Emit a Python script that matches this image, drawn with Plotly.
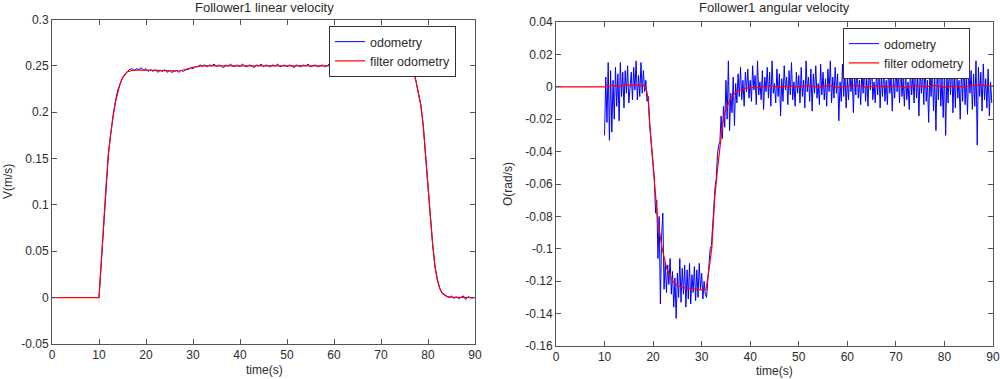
import plotly.graph_objects as go

# ---------------- DATA ----------------
# Linear velocity: odometry sampled every 0.5 s from t = 10 s
lin_odo_t0 = 10.0
lin_odo_dt = 0.5
lin_odo_v = [
    0.000, 0.040, 0.085, 0.118, 0.155, 0.178, 0.198, 0.212,
    0.224, 0.231, 0.237, 0.241, 0.244, 0.246, 0.247, 0.245,
    0.247, 0.246, 0.248, 0.245, 0.247, 0.244, 0.246, 0.244,
    0.246, 0.243, 0.245, 0.244, 0.246, 0.243, 0.245, 0.243,
    0.244, 0.245, 0.243, 0.245, 0.244, 0.246, 0.246, 0.248,
    0.247, 0.249, 0.249, 0.251, 0.250, 0.251, 0.249, 0.251,
    0.250, 0.252, 0.249, 0.251, 0.250, 0.248, 0.251, 0.250,
    0.252, 0.249, 0.250, 0.251, 0.249, 0.252, 0.250, 0.249,
    0.251, 0.250, 0.248, 0.251, 0.250, 0.252, 0.249, 0.251,
    0.250, 0.249, 0.251, 0.250, 0.252, 0.249, 0.250, 0.251,
    0.249, 0.251, 0.250, 0.248, 0.251, 0.250, 0.249, 0.251,
    0.250, 0.252, 0.249, 0.250, 0.251, 0.249, 0.250, 0.251,
    0.249, 0.250, 0.252, 0.249, 0.251, 0.250, 0.249, 0.251,
    0.250, 0.249, 0.251, 0.250, 0.248, 0.250, 0.251, 0.249,
    0.250, 0.251, 0.249, 0.250, 0.249, 0.251, 0.250, 0.248,
    0.250, 0.249, 0.251, 0.249, 0.250, 0.248, 0.250, 0.249,
    0.250, 0.249, 0.248, 0.250, 0.249, 0.249, 0.244, 0.232,
    0.220, 0.207, 0.185, 0.150, 0.120, 0.088, 0.057, 0.033,
    0.019, 0.010, 0.005, 0.003, 0.001, 0.000, 0.002, -0.001,
    0.001, -0.001, 0.000, 0.002, -0.002, 0.001, 0.000, -0.001,
]

# Linear velocity: filtered odometry
lin_filt_t = [0, 10, 10.5, 11, 11.5, 12, 12.5, 13, 13.5, 14, 14.5, 15, 15.5, 16,
              17, 18, 20, 22, 24, 26, 27.5, 28.5, 29.5, 30.5, 31.5, 33, 40, 50,
              60, 70, 75, 76, 76.5, 77, 77.5, 78, 78.5, 79, 79.5, 80, 80.5, 81,
              81.5, 82, 82.5, 83, 83.5, 84, 85, 86, 88, 90]
lin_filt_v = [0, 0, 0.040, 0.083, 0.120, 0.155, 0.178, 0.197, 0.211, 0.222, 0.231,
              0.237, 0.241, 0.2435, 0.245, 0.2455, 0.2455, 0.245, 0.2445, 0.2445,
              0.245, 0.2465, 0.2480, 0.2490, 0.2498, 0.2500, 0.2500, 0.2500,
              0.2500, 0.2500, 0.2500, 0.2500, 0.2490, 0.2440, 0.2320, 0.2200,
              0.2070, 0.1850, 0.1500, 0.1200, 0.0880, 0.0570, 0.0330, 0.0190,
              0.0100, 0.0050, 0.0030, 0.0010, 0.0005, 0.0003, 0.0, 0.0]

# Angular velocity: odometry sampled every 0.25 s from t = 10 s
ang_odo_t0 = 10.0
ang_odo_dt = 0.25
ang_odo_w = [
    -0.030, 0.006, -0.022, 0.015, -0.033, 0.010, -0.028, 0.004,
    -0.020, 0.012, -0.012, 0.008, -0.021, 0.015, -0.006, 0.009,
    -0.013, 0.010, -0.004, 0.013, -0.010, 0.002, 0.009, -0.008,
    0.012, -0.002, 0.016, -0.008, 0.007, -0.006, 0.015, -0.004,
    0.010, -0.003, 0.004, -0.009, -0.006, -0.022, -0.030, -0.038,
    -0.050, -0.056, -0.078, -0.070, -0.106, -0.080, -0.134, -0.092,
    -0.078, -0.125, -0.108, -0.127, -0.110, -0.122, -0.106, -0.128,
    -0.114, -0.136, -0.118, -0.143, -0.115, -0.130, -0.106, -0.133,
    -0.112, -0.128, -0.110, -0.136, -0.113, -0.131, -0.109, -0.134,
    -0.116, -0.127, -0.111, -0.132, -0.113, -0.130, -0.109, -0.125,
    -0.115, -0.131, -0.120, -0.128, -0.130, -0.118, -0.112, -0.100,
    -0.098, -0.082, -0.075, -0.062, -0.057, -0.042, -0.036, -0.034,
    -0.018, -0.032, -0.012, -0.025, 0.004, -0.020, 0.016, -0.027,
    -0.004, -0.016, 0.006, -0.024, 0.002, -0.010, 0.008, -0.006,
    0.012, -0.008, 0.004, -0.012, 0.009, -0.003, 0.011, -0.007,
    0.004, -0.009, 0.013, -0.002, 0.007, -0.011, 0.016, -0.005,
    0.003, -0.008, 0.010, -0.014, 0.006, -0.003, 0.012, -0.007,
    0.009, -0.012, 0.016, -0.004, 0.002, -0.010, 0.011, -0.006,
    0.008, -0.018, 0.005, -0.009, 0.013, -0.002, 0.006, -0.011,
    0.010, -0.005, 0.015, -0.008, 0.003, -0.012, 0.009, -0.004,
    0.007, -0.010, 0.012, -0.006, 0.004, -0.013, 0.016, -0.003,
    0.006, -0.009, 0.011, -0.015, 0.008, -0.004, 0.013, -0.007,
    0.002, -0.011, 0.014, -0.005, 0.009, -0.008, 0.005, -0.012,
    0.011, -0.003, 0.016, -0.010, 0.006, -0.007, 0.012, -0.004,
    0.008, -0.021, 0.003, -0.009, 0.014, -0.006, 0.010, -0.013,
    0.005, -0.008, 0.012, -0.003, 0.007, -0.016, 0.009, -0.005,
    0.015, -0.007, 0.004, -0.011, 0.010, -0.004, 0.013, -0.009,
    0.006, -0.012, 0.011, -0.002, 0.016, -0.008, 0.003, -0.010,
    0.009, -0.005, 0.014, -0.013, 0.007, -0.006, 0.010, -0.009,
    0.004, -0.011, 0.012, -0.004, 0.008, -0.015, 0.006, -0.007,
    0.013, -0.003, 0.009, -0.010, 0.016, -0.006, 0.005, -0.012,
    0.010, -0.008, 0.003, -0.014, 0.011, -0.005, 0.008, -0.010,
    0.014, -0.007, 0.006, -0.018, 0.012, -0.004, 0.009, -0.011,
    0.016, -0.009, 0.004, -0.022, 0.010, -0.006, 0.013, -0.015,
    0.007, -0.027, 0.011, -0.008, 0.016, -0.012, 0.005, -0.019,
    0.012, -0.030, 0.008, -0.010, 0.014, -0.005, 0.016, -0.016,
    0.009, -0.013, 0.015, -0.007, 0.004, -0.020, 0.011, -0.009,
    0.016, -0.011, 0.006, -0.017, 0.013, -0.004, 0.010, -0.014,
    0.008, -0.012, 0.016, -0.036, 0.012, -0.006, 0.009, -0.015,
    0.014, -0.008, 0.005, -0.013, 0.011, -0.018, 0.003, -0.010,
]

# Angular velocity: filtered odometry
ang_filt_t = [0, 10, 10.5, 11, 11.5, 12, 12.5, 13, 13.5, 14, 15, 15.5, 16, 16.5,
              17, 17.5, 18, 18.3, 18.7, 19.0, 19.4, 20.0, 20.4, 20.8, 21.4, 21.8,
              22.4, 22.8, 23.5, 24.2, 24.9, 26, 27.6, 29, 30.3, 30.9, 31.2, 31.5,
              32.1, 32.7, 33.3, 33.8, 34.3, 34.8, 35.8, 36.8, 37.9, 39, 40, 42,
              44, 46, 48, 50, 52, 54, 56, 58, 60, 62, 64, 66, 68, 70, 72, 74, 76,
              78, 80, 82, 84, 86, 88, 89, 90]
ang_filt_w = [0, 0, 0.0010, 0.0000, 0.0012, 0.0005, 0.0010, 0.0000, 0.0008,
              0.0015, 0.0010, 0.0005, 0.0012, 0.0008, 0.0010, 0.0006, 0.0008,
              0.0000, -0.0030, -0.0080, -0.0270, -0.0470, -0.0600, -0.0780,
              -0.0910, -0.0990, -0.1070, -0.1120, -0.1170, -0.1205, -0.1225,
              -0.1240, -0.1246, -0.1250, -0.1255, -0.1250, -0.1200, -0.1130,
              -0.0990, -0.0680, -0.0500, -0.0370, -0.0230, -0.0160, -0.0080,
              -0.0040, -0.0020, -0.0010, -0.0005, -0.0005, 0.0008, -0.0003,
              0.0006, 0.0000, 0.0007, -0.0004, 0.0009, -0.0005, 0.0004, 0.0008,
              -0.0004, 0.0006, 0.0000, 0.0008, -0.0005, 0.0007, 0.0000, 0.0009,
              -0.0003, 0.0006, 0.0000, 0.0008, 0.0010, 0.0004, 0.0005]

x_ticks = [0, 10, 20, 30, 40, 50, 60, 70, 80, 90]
lin_y_ticks = [0.3, 0.25, 0.2, 0.15, 0.1, 0.05, 0, -0.05]
lin_y_text = ["0.3", "0.25", "0.2", "0.15", "0.1", "0.05", "0", "-0.05"]
ang_y_ticks = [0.04, 0.02, 0, -0.02, -0.04, -0.06, -0.08, -0.1, -0.12, -0.14, -0.16]
ang_y_text = ["0.04", "0.02", "0", "-0.02", "-0.04", "-0.06", "-0.08", "-0.1",
              "-0.12", "-0.14", "-0.16"]

titles = ["Follower1 linear velocity", "Follower1 angular velocity"]
y_titles = ["V(m/s)", "O(rad/s)"]
x_title = "time(s)"
legend_names = ["odometry", "filter odometry"]

# ---------------- FIGURE ----------------
W, H = 1000, 379
FONT = "Liberation Sans, Arial, sans-serif"
TXT = "#2b2b2b"
AX = "#555555"
FS = 12

lin_odo_t = [lin_odo_t0 + i * lin_odo_dt for i in range(len(lin_odo_v))]
ang_odo_t = [ang_odo_t0 + i * ang_odo_dt for i in range(len(ang_odo_w))]

fig = go.Figure()
fig.add_trace(go.Scatter(x=lin_odo_t, y=lin_odo_v, mode="lines", name=legend_names[0],
                         line=dict(color="#0000ff", width=1), xaxis="x", yaxis="y",
                         legend="legend"))
fig.add_trace(go.Scatter(x=lin_filt_t, y=lin_filt_v, mode="lines", name=legend_names[1],
                         line=dict(color="#ff0000", width=1.2), xaxis="x", yaxis="y",
                         legend="legend"))
fig.add_trace(go.Scatter(x=ang_odo_t, y=ang_odo_w, mode="lines", name=legend_names[0],
                         line=dict(color="#0000ff", width=1), xaxis="x2", yaxis="y2",
                         legend="legend2"))
fig.add_trace(go.Scatter(x=ang_filt_t, y=ang_filt_w, mode="lines", name=legend_names[1],
                         line=dict(color="#ff0000", width=1.2), xaxis="x2", yaxis="y2",
                         legend="legend2"))


def px_x(p):
    return p / W


def px_y(p):
    return 1 - p / H


axis_common = dict(showgrid=False, zeroline=False, showline=True, linecolor=AX,
                   linewidth=1, mirror="ticks", ticks="inside", ticklen=5,
                   tickcolor=AX, automargin=False,
                   tickfont=dict(family=FONT, size=FS, color=TXT))

fig.update_layout(
    width=W, height=H,
    margin=dict(l=0, r=0, t=0, b=0, autoexpand=False),
    paper_bgcolor="white", plot_bgcolor="white",
    font=dict(family=FONT, size=FS, color=TXT),
    xaxis=dict(domain=[px_x(52), px_x(475)], range=[0, 90], tickvals=x_ticks,
               anchor="y", **axis_common),
    yaxis=dict(domain=[px_y(344), px_y(19.5)], range=[-0.05, 0.3],
               tickvals=lin_y_ticks, ticktext=lin_y_text, anchor="x", **axis_common),
    xaxis2=dict(domain=[px_x(556), px_x(993)], range=[0, 90], tickvals=x_ticks,
                anchor="y2", **axis_common),
    yaxis2=dict(domain=[px_y(346), px_y(22)], range=[-0.16, 0.04],
                tickvals=ang_y_ticks, ticktext=ang_y_text, anchor="x2", **axis_common),
    legend=dict(x=px_x(329), y=px_y(26), xanchor="left", yanchor="top",
                bgcolor="white", bordercolor="#333333", borderwidth=1,
                font=dict(family=FONT, size=12.5, color=TXT), tracegroupgap=0),
    legend2=dict(x=px_x(843), y=px_y(28), xanchor="left", yanchor="top",
                 bgcolor="white", bordercolor="#333333", borderwidth=1,
                 font=dict(family=FONT, size=12.5, color=TXT), tracegroupgap=0),
    showlegend=True,
)

ann = [
    dict(text=titles[0], x=px_x(264), y=px_y(7), xanchor="center", yanchor="middle", size=13),
    dict(text=titles[1], x=px_x(774), y=px_y(7), xanchor="center", yanchor="middle", size=13),
    dict(text=x_title, x=px_x(264), y=px_y(370), xanchor="center", yanchor="middle", size=FS),
    dict(text=x_title, x=px_x(774), y=px_y(371), xanchor="center", yanchor="middle", size=FS),
    dict(text=y_titles[0], x=px_x(8), y=px_y(182), xanchor="center", yanchor="middle",
         textangle=-90, size=FS),
    dict(text=y_titles[1], x=px_x(508), y=px_y(184), xanchor="center", yanchor="middle",
         textangle=-90, size=FS),
]
for a in ann:
    s = a.pop("size")
    a.update(xref="paper", yref="paper", showarrow=False,
             font=dict(family=FONT, size=s, color=TXT))
fig.update_layout(annotations=ann)

fig.write_html("out.html", config={"displayModeBar": False},
               post_script="document.body.style.margin='0';document.body.style.padding='0';")
